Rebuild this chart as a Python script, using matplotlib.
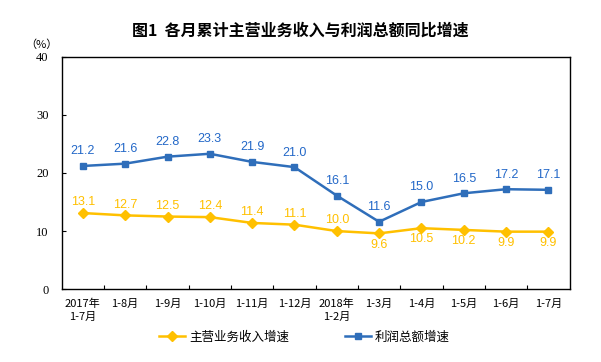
import numpy as np
import matplotlib
matplotlib.use("Agg")
import matplotlib.pyplot as plt

plt.rcParams['font.family'] = ['Noto Sans CJK SC', 'DejaVu Sans']

months = ["2017年\n1-7月", "1-8月", "1-9月", "1-10月", "1-11月", "1-12月",
          "2018年\n1-2月", "1-3月", "1-4月", "1-5月", "1-6月", "1-7月"]
income_growth = [13.1, 12.7, 12.5, 12.4, 11.4, 11.1, 10.0, 9.6, 10.5, 10.2, 9.9, 9.9]
profit_growth = [21.2, 21.6, 22.8, 23.3, 21.9, 21.0, 16.1, 11.6, 15.0, 16.5, 17.2, 17.1]
yticks = [0, 10, 20, 30, 40]

orange = "#FFC000"
blue = "#2F6EBA"
blue_txt = "#2368C8"

fig = plt.figure(figsize=(6.01, 3.62), dpi=100)
ax = fig.add_axes([0.1027, 0.2011, 0.8449, 0.6423])

x = np.arange(len(months))
ax.plot(x, income_growth, color=orange, lw=1.8, marker='D', ms=5,
        label="主营业务收入增速")
ax.plot(x, profit_growth, color=blue, lw=1.8, marker='s', ms=4.5,
        label="利润总额增速")

# data labels
for i, v in enumerate(income_growth):
    dy = 7.8 if i < 7 else -8
    ax.annotate("%.1f" % v, (i, v), xytext=(0, dy), textcoords='offset points',
                ha='center', va='center', color=orange, fontsize=9,
                family='Liberation Sans')
for i, v in enumerate(profit_growth):
    ax.annotate("%.1f" % v, (i, v), xytext=(0, 10.5), textcoords='offset points',
                ha='center', va='center', color=blue_txt, fontsize=9,
                family='Liberation Sans')

ax.set_xlim(-0.5, len(months) - 0.5)
ax.set_ylim(0, 40)
ax.set_yticks(yticks)
ax.set_yticklabels([str(t) for t in yticks], family='Liberation Serif', fontsize=9)
ax.tick_params(axis='y', direction='in', length=3, width=0.8, pad=9.5)

ax.set_xticks(x)
ax.set_xticklabels(months, fontsize=8, linespacing=1.35)
ax.set_xticks(np.arange(0.5, len(months) - 1, 1.0), minor=True)
ax.tick_params(axis='x', which='major', length=0, pad=7)
ax.tick_params(axis='x', which='minor', direction='in', length=3, width=0.8)

for s in ax.spines.values():
    s.set_linewidth(1.0)
    s.set_color('black')

fig.text(0.5, 1 - 31 / 362, "图1  各月累计主营业务收入与利润总额同比增速",
         ha='center', va='center', fontsize=11.5, fontweight='bold')
fig.text(41.5 / 601, 1 - 45 / 362, "（%）", ha='center', va='center', fontsize=8)

fig.legend(loc='center', bbox_to_anchor=(304.5 / 601, 1 - 337 / 362), ncol=2,
           frameon=False, fontsize=9, handlelength=2.1, handletextpad=0.3,
           columnspacing=4.5, numpoints=1)

plt.savefig("out.png", dpi=100)
